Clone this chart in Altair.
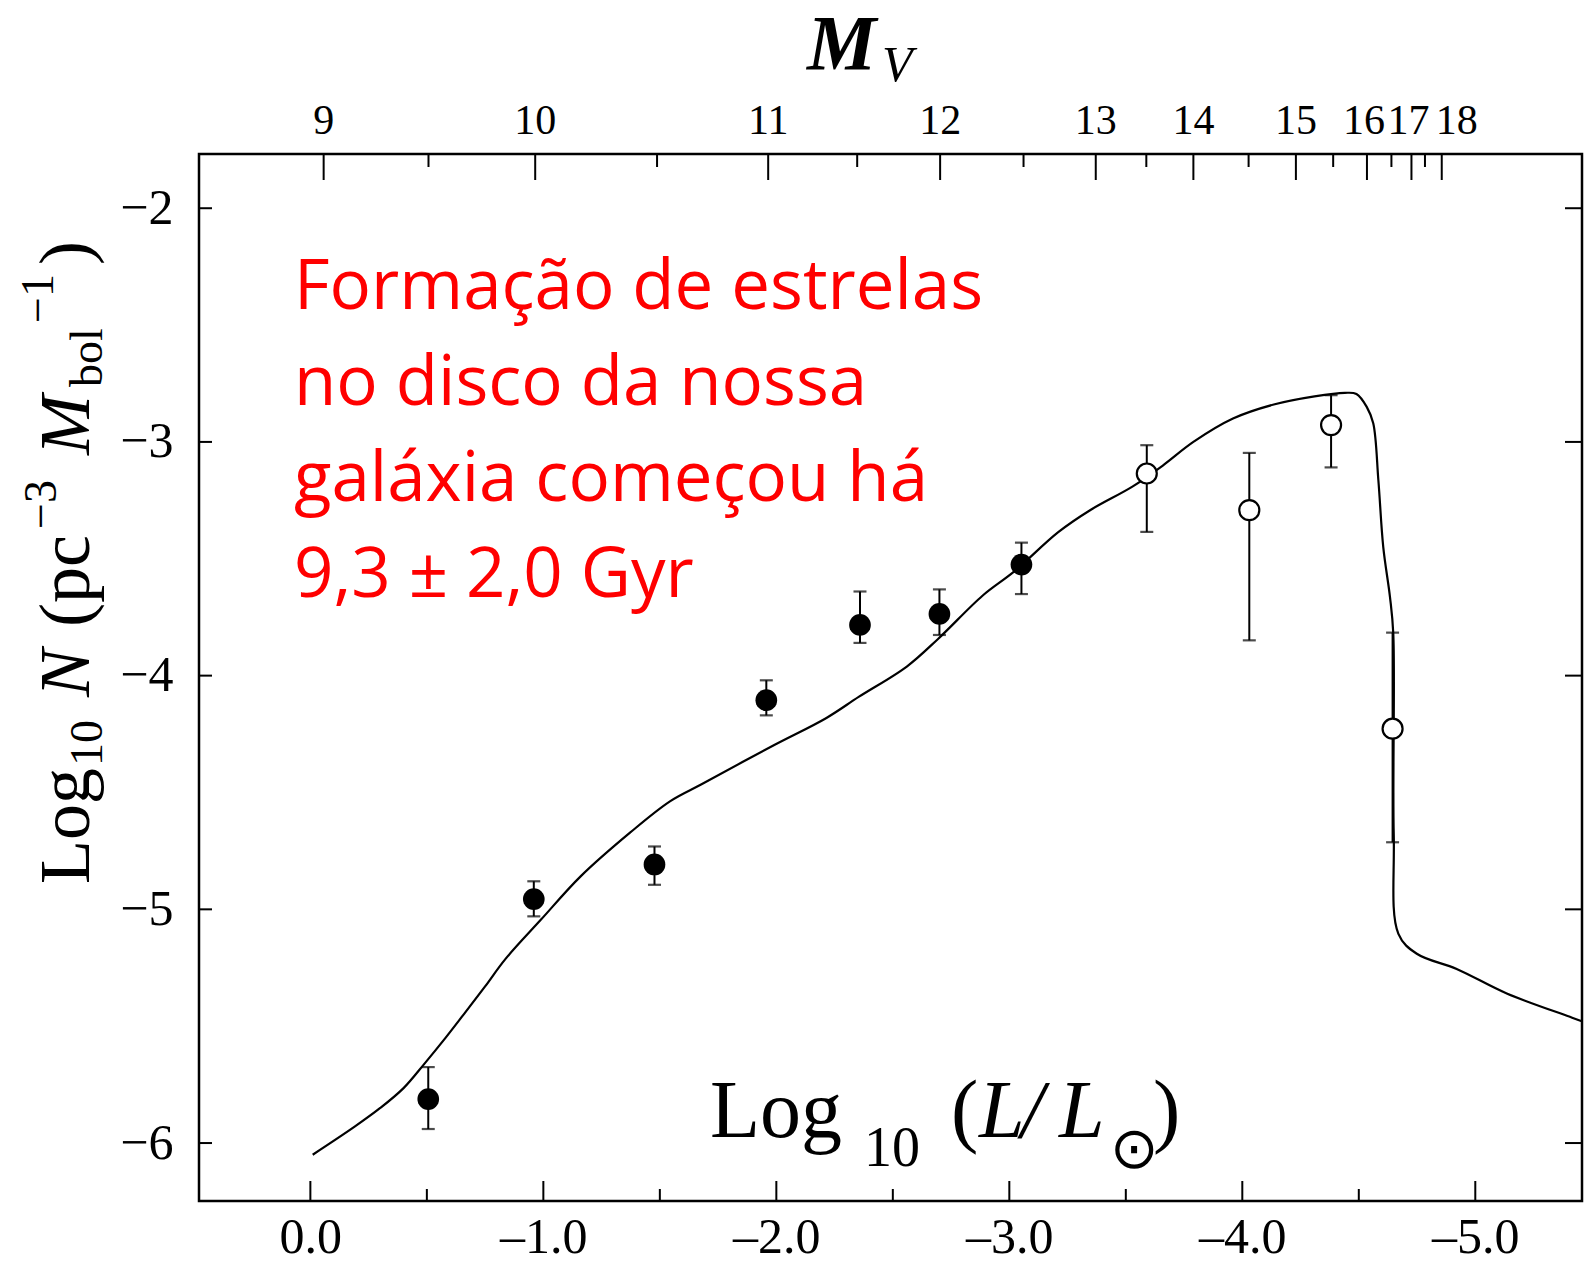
import altair as alt
import pandas as pd

# ---------------- data ----------------
# model curve: log10(L/Lsun) vs log10 N
curve_logl = [-0.01, -0.19, -0.30, -0.40, -0.49, -0.58, -0.654, -0.75, -0.836, -0.989,
              -1.161, -1.372, -1.545, -1.679, -1.985, -2.215, -2.355, -2.56, -2.694, -2.886,
              -3.02, -3.21, -3.35, -3.53, -3.66, -3.79, -3.96, -4.135, -4.31, -4.44,
              -4.49, -4.534, -4.562, -4.584, -4.605, -4.634, -4.648, -4.650, -4.670, -4.749,
              -4.92, -5.135, -5.406, -5.46]
curve_logn = [-6.05, -5.93, -5.85, -5.765, -5.66, -5.55, -5.455, -5.33, -5.214, -5.045,
              -4.858, -4.672, -4.537, -4.465, -4.30, -4.181, -4.09, -3.961, -3.843, -3.657,
              -3.555, -3.386, -3.29, -3.19, -3.10, -3.00, -2.90, -2.84, -2.805, -2.79,
              -2.795, -2.85, -2.92, -3.164, -3.45, -3.665, -3.82, -4.68, -5.105, -5.19,
              -5.255, -5.36, -5.46, -5.48]

# filled points with error bars
filled_logl = [-0.506, -0.959, -1.477, -1.957, -2.359, -2.70, -3.052]
filled_logn = [-5.812, -4.956, -4.808, -4.105, -3.783, -3.736, -3.525]
filled_lo = [-5.94, -5.03, -4.895, -4.17, -3.86, -3.826, -3.651]
filled_hi = [-5.675, -4.88, -4.731, -4.02, -3.64, -3.631, -3.431]

# open points with error bars
open_logl = [-3.59, -4.03, -4.381, -4.645]
open_logn = [-3.135, -3.292, -2.928, -4.227]
open_lo = [-3.385, -3.849, -3.109, -4.713]
open_hi = [-3.014, -3.047, -2.80, -3.816]

# axis ticks
x_major = [0.0, -1.0, -2.0, -3.0, -4.0, -5.0]
x_minor = [-0.5, -1.5, -2.5, -3.5, -4.5]
y_major = [-2, -3, -4, -5, -6]

# top axis: M_V values and their log(L/Lsun) positions
mv_values = [9, 9.5, 10, 10.5, 11, 11.5, 12, 12.5, 13, 13.5, 14, 14.5, 15, 15.5, 16, 16.5, 17, 17.5, 18]
mv_logl = [-0.057, -0.507, -0.965, -1.488, -1.965, -2.347, -2.703, -3.061, -3.371, -3.588,
           -3.79, -4.027, -4.23, -4.39, -4.535, -4.64, -4.726, -4.784, -4.856]

red_lines = ["Formação de estrelas", "no disco da nossa", "galáxia começou há", "9,3 ± 2,0 Gyr"]

# ---------------- chart ----------------
W, H = 1383, 1047
SERIF = "Liberation Serif"

xscale = alt.Scale(domain=[-5.458, 0.478], reverse=True, nice=False, zero=False)
yscale = alt.Scale(domain=[-6.248, -1.768], nice=False, zero=False)

xaxis = alt.Axis(values=x_major, title=None, ticks=False, tickSize=0, domain=False, grid=False,
                 labelFont=SERIF, labelFontSize=50, labelColor="black", labelPadding=11,
                 labelOverlap=False, labelFlush=False,
                 labelExpr="datum.value == 0 ? '0.0' : '\u2013' + format(-datum.value, '.1f')")
yaxis = alt.Axis(values=y_major, title=None, ticks=False, tickSize=0, domain=False, grid=False,
                 labelFont=SERIF, labelFontSize=50, labelColor="black", labelPadding=26,
                 labelOverlap=False, labelFlush=False,
                 labelExpr="'\u2212' + format(-datum.value, 'd')")

X = alt.X("logl:Q", scale=xscale, axis=xaxis)
Y = alt.Y("logn:Q", scale=yscale, axis=yaxis)

curve_df = pd.DataFrame({"logl": curve_logl, "logn": curve_logn, "i": list(range(len(curve_logl)))})
filled_df = pd.DataFrame({"logl": filled_logl, "logn": filled_logn, "lo": filled_lo, "hi": filled_hi})
open_df = pd.DataFrame({"logl": open_logl, "logn": open_logn, "lo": open_lo, "hi": open_hi})
pts_df = pd.concat([filled_df, open_df], ignore_index=True)

curve = alt.Chart(curve_df).mark_line(color="black", strokeWidth=2.2, interpolate="catmull-rom").encode(
    x=X, y=Y, order=alt.Order("i:Q"))

err = alt.Chart(pts_df).mark_rule(color="black", strokeWidth=2).encode(
    x=X, y=alt.Y("lo:Q", scale=yscale, axis=yaxis), y2="hi:Q")
cap_lo = alt.Chart(pts_df).mark_tick(orient="horizontal", size=13, thickness=2.2, color="black").encode(
    x=X, y=alt.Y("lo:Q", scale=yscale, axis=yaxis))
cap_hi = alt.Chart(pts_df).mark_tick(orient="horizontal", size=13, thickness=2.2, color="black").encode(
    x=X, y=alt.Y("hi:Q", scale=yscale, axis=yaxis))

filled_pts = alt.Chart(filled_df).mark_point(shape="circle", filled=True, size=470, color="black", opacity=1).encode(
    x=X, y=Y)
open_pts = alt.Chart(open_df).mark_point(shape="circle", filled=True, size=400, fill="white",
                                         stroke="black", strokeWidth=2.2, opacity=1).encode(x=X, y=Y)

# inward ticks
xmaj_df = pd.DataFrame({"logl": x_major})
xmin_df = pd.DataFrame({"logl": x_minor})
ymaj_df = pd.DataFrame({"logn": y_major})
mv_df = pd.DataFrame({"logl": mv_logl, "mv": mv_values})
mv_df["major"] = [float(v).is_integer() for v in mv_values]
mv_df["label"] = [str(int(v)) if float(v).is_integer() else "" for v in mv_values]

tick_style = dict(color="black", strokeWidth=2)
bt_major = alt.Chart(xmaj_df).mark_rule(**tick_style).encode(x=X, y=alt.value(H), y2=alt.value(H - 20))
bt_minor = alt.Chart(xmin_df).mark_rule(**tick_style).encode(x=X, y=alt.value(H), y2=alt.value(H - 12))
lt = alt.Chart(ymaj_df).mark_rule(**tick_style).encode(y=Y, x=alt.value(0), x2=alt.value(13))
rt = alt.Chart(ymaj_df).mark_rule(**tick_style).encode(y=Y, x=alt.value(W), x2=alt.value(W - 17))
tt_major = alt.Chart(mv_df).transform_filter("datum.major").mark_rule(**tick_style).encode(
    x=X, y=alt.value(0), y2=alt.value(26))
tt_minor = alt.Chart(mv_df).transform_filter("!datum.major").mark_rule(**tick_style).encode(
    x=X, y=alt.value(0), y2=alt.value(13))
mv_text = dict(font=SERIF, fontSize=42, color="black", baseline="alphabetic", align="center")
tt_labels = alt.Chart(mv_df).transform_filter("datum.major && datum.mv < 16").mark_text(**mv_text).encode(
    x=X, y=alt.value(-20), text="label:N")
tt_label16 = alt.Chart(mv_df).transform_filter("datum.mv == 16 || datum.mv == 17").mark_text(dx=-3, **mv_text).encode(
    x=X, y=alt.value(-20), text="label:N")
tt_label18 = alt.Chart(mv_df).transform_filter("datum.mv == 18").mark_text(dx=15, **mv_text).encode(
    x=X, y=alt.value(-20), text="label:N")


def txt(s, x, y, size, style="normal", weight="normal", font=SERIF, angle=0, color="black", **kw):
    return alt.Chart(pd.DataFrame({"t": [s]})).mark_text(
        font=font, fontSize=size, fontStyle=style, fontWeight=weight, angle=angle,
        align="left", baseline="alphabetic", color=color, **kw).encode(
        x=alt.value(x), y=alt.value(y), text="t:N")


texts = [
    # top title M_V
    txt("M", 608, -85, 78, style="italic", weight="bold"),
    txt("V", 683, -73, 50, style="italic"),
    # inner x label  Log10 (L/L⊙)
    txt("Log", 511, 983, 82),
    txt("10", 665, 1012, 56),
    txt("(", 752, 983, 82),
    txt("L", 780, 983, 82, style="italic"),
    txt("/", 822, 983, 82, style="italic"),
    txt("L", 860, 983, 82, style="italic"),
    txt("\u2299", 911, 1014, 58, font="DejaVu Sans"),
    txt(")", 954, 983, 82),
    # rotated y title  Log10 N (pc^-3 M_bol^-1)
    txt("Log", -110, 730, 72, angle=270),
    txt("10", -97, 612, 46, angle=270),
    txt("N", -110, 543, 72, style="italic", angle=270),
    txt("(pc", -110, 473, 72, angle=270),
    txt("\u22123", -143, 375, 46, angle=270),
    txt("M", -110, 301, 72, style="italic", angle=270),
    txt("bol", -97, 233, 46, angle=270),
    txt("\u22121", -146, 169, 46, angle=270),
    txt(")", -110, 111, 72, angle=270),
]

red = alt.Chart(pd.DataFrame({"t": ["\n".join(red_lines)]})).mark_text(
    font="Open Sans", fontSize=69, color="#ff0000", align="left", baseline="alphabetic",
    lineBreak="\n", lineHeight=96).encode(x=alt.value(95), y=alt.value(155), text="t:N")

chart = alt.layer(
    curve, err, cap_lo, cap_hi, filled_pts, open_pts,
    bt_major, bt_minor, lt, rt, tt_major, tt_minor, tt_labels, tt_label16, tt_label18,
    red, *texts,
).properties(
    width=W, height=H,
    autosize=alt.AutoSizeParams(type="none"),
    padding={"left": 199, "top": 154, "right": 3, "bottom": 60},
    background="white",
).configure_view(stroke="black", strokeWidth=2.5)

chart.save("out.html", embed_options={"renderer": "svg", "actions": False})
